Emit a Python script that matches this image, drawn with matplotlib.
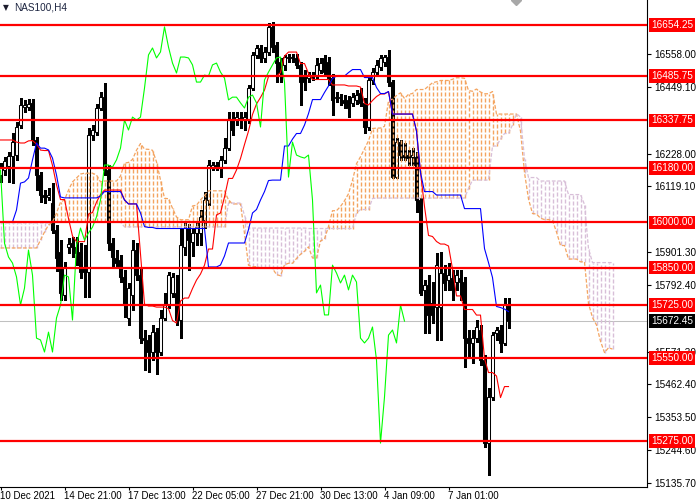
import numpy as np
import matplotlib.pyplot as plt
from matplotlib.collections import LineCollection
from matplotlib.transforms import blended_transform_factory

# H4 candles (price units)
opens = [16157, 16174, 16187, 16220, 16223, 16323, 16382, 16382, 16396, 16273,
         16157, 16091, 16084, 16064, 15975, 15902, 15759, 15918, 15931, 15918,
         15902, 15849, 15835, 16289, 16299, 16379, 16415, 16173, 15931, 15882,
         15875, 15819, 15683, 15759, 15908, 15825, 15616, 15610, 15570, 15636,
         15570, 15683, 15726, 15766, 15766, 15676, 15918, 15981, 15935, 15965,
         15965, 16008, 16074, 16183, 16190, 16183, 16207, 16246, 16339, 16339,
         16346, 16339, 16339, 16445, 16555, 16578, 16545, 16565, 16648, 16588,
         16531, 16522, 16545, 16548, 16545, 16522, 16488, 16478, 16482, 16488,
         16505, 16545, 16531, 16478, 16412, 16412, 16406, 16406, 16396, 16406,
         16429, 16396, 16316, 16472, 16498, 16515, 16531, 16548, 16465, 16150,
         16266, 16223, 16223, 16217, 16217, 16074, 15776, 15792, 15732, 15719,
         15719, 15832, 15809, 15815, 15802, 15815, 15802, 15616, 15600, 15616,
         15643, 15543, 15268, 15421, 15633, 15643, 15600, 15726]
highs = [16197, 16217, 16233, 16296, 16333, 16412, 16406, 16409, 16409, 16283,
         16167, 16107, 16114, 16130, 15990, 15941, 15868, 15948, 15951, 15951,
         15931, 15925, 16313, 16323, 16392, 16432, 16462, 16190, 15948, 15908,
         15892, 15842, 15799, 15941, 15931, 15852, 15643, 15626, 15660, 15650,
         15709, 15766, 15835, 15832, 15825, 15981, 16001, 15994, 15981, 16001,
         16041, 16100, 16207, 16200, 16200, 16220, 16280, 16366, 16366, 16366,
         16366, 16366, 16455, 16565, 16588, 16588, 16581, 16661, 16664, 16598,
         16545, 16555, 16558, 16558, 16558, 16531, 16505, 16498, 16498, 16545,
         16545, 16555, 16548, 16492, 16432, 16425, 16422, 16419, 16429, 16439,
         16445, 16412, 16482, 16512, 16538, 16555, 16555, 16571, 16472, 16280,
         16273, 16263, 16240, 16246, 16233, 16081, 15809, 15825, 15802, 15898,
         15902, 15858, 15865, 15842, 15842, 15842, 15819, 15643, 15643, 15676,
         15660, 15560, 15451, 15636, 15653, 15660, 15749, 15749]
lows = [16134, 16157, 16134, 16130, 16207, 16313, 16366, 16372, 16256, 16107,
        16067, 16064, 16074, 15965, 15840, 15742, 15742, 15898, 15885, 15858,
        15815, 15752, 15752, 16273, 16289, 16372, 16157, 15908, 15852, 15848,
        15802, 15686, 15660, 15709, 15809, 15600, 15510, 15504, 15543, 15497,
        15560, 15676, 15716, 15752, 15660, 15616, 15892, 15842, 15888, 15925,
        15925, 15981, 16057, 16173, 16173, 16150, 16197, 16240, 16289, 16323,
        16313, 16306, 16329, 16439, 16545, 16531, 16531, 16555, 16565, 16465,
        16465, 16505, 16531, 16531, 16512, 16389, 16439, 16465, 16472, 16478,
        16495, 16488, 16455, 16356, 16399, 16389, 16379, 16349, 16386, 16392,
        16386, 16296, 16306, 16459, 16488, 16505, 16518, 16452, 16147, 16147,
        16207, 16207, 16190, 16190, 16034, 15759, 15633, 15633, 15666, 15610,
        15610, 15776, 15776, 15742, 15776, 15742, 15520, 15553, 15534, 15603,
        15527, 15255, 15162, 15411, 15610, 15570, 15593, 15650]
closes = [16183, 16203, 16220, 16266, 16316, 16389, 16389, 16392, 16273, 16157,
          16091, 16084, 16091, 15975, 15882, 15766, 15849, 15928, 15918, 15898,
          15835, 15835, 16289, 16306, 16379, 16415, 16173, 15931, 15885, 15865,
          15819, 15726, 15782, 15908, 15825, 15616, 15610, 15570, 15636, 15570,
          15683, 15726, 15825, 15819, 15676, 15925, 15981, 15941, 15965, 15984,
          16018, 16074, 16190, 16190, 16183, 16207, 16246, 16339, 16306, 16349,
          16339, 16349, 16445, 16555, 16578, 16545, 16565, 16648, 16581, 16528,
          16495, 16548, 16548, 16545, 16522, 16465, 16465, 16488, 16485, 16522,
          16528, 16498, 16478, 16406, 16415, 16415, 16396, 16379, 16415, 16422,
          16396, 16316, 16472, 16498, 16522, 16545, 16548, 16465, 16150, 16266,
          16223, 16217, 16213, 16223, 16074, 15766, 15792, 15693, 15693, 15858,
          15832, 15799, 15825, 15776, 15825, 15802, 15616, 15600, 15616, 15653,
          15543, 15268, 15421, 15626, 15643, 15600, 15726, 15672.45]

# ichimoku values at the left edge, where the history is off screen
tenkan_head = [16273, 16273, 16273, 16273, 16266, 16263, 16263, 16270]
kijun_head = [16001, 16001, 16001, 16001, 16041, 16130, 16134, 16147, 16207,
              16263, 16246, 16246, 16240, 16213, 16157, 16084, 16081, 16081,
              16081, 16081, 16081, 16081, 16081, 16081, 16081]
span_a_head = [15915, 15915, 15915, 15915, 15915, 15915, 15915, 15915, 15915,
               15915, 15941, 15968, 15991, 16001, 16031, 16067, 16074, 16107,
               16134, 16147, 16160, 16163, 16163, 16163, 16157, 16134]
span_b_head = ([15998] * 13 + [16001] * 18 + [15985] * 26 + [16064] * 4
               + [16024] + [15981] * 15)

levels = [16654.25, 16485.75, 16337.75, 16180.00, 16000.00,
          15850.00, 15725.00, 15550.00, 15275.00]
price_ticks = [16558.00, 16449.10, 16228.00, 16119.10, 15901.30, 15792.40,
               15571.30, 15462.40, 15353.50, 15244.60, 15135.70]
last_price = 15672.45
date_pos = [0, 16, 32, 48, 64, 80, 96, 112]
date_labels = ["10 Dec 2021", "14 Dec 21:00", "17 Dec 13:00", "22 Dec 05:00",
               "27 Dec 21:00", "30 Dec 13:00", "4 Jan 09:00", "7 Jan 01:00"]

FONT = ["Liberation Sans", "DejaVu Sans"]
plt.rcParams["font.family"] = FONT

o = np.array(opens, float)
h = np.array(highs, float)
l = np.array(lows, float)
c = np.array(closes, float)
n = len(c)
shift = 26


def midpoint(i, period):
    return (h[i - period + 1:i + 1].max() + l[i - period + 1:i + 1].min()) / 2


def dotted_columns(xs, lo, hi, on, off):
    """Split each vertical cloud column into short dashes (MT4 STYLE_DOT)."""
    segs = []
    for xv, a, b in zip(xs, lo, hi):
        y = a
        while y < b:
            segs.append([(xv, y), (xv, min(y + on, b))])
            y += on + off
    return segs


tenkan = np.array(tenkan_head + [midpoint(i, 9) for i in range(len(tenkan_head), n)])
kijun = np.array(kijun_head + [midpoint(i, 26) for i in range(len(kijun_head), n)])
span_a = np.array(span_a_head + list((tenkan + kijun) / 2))
span_b = np.array(span_b_head + [midpoint(i, 52) for i in range(51, n)])
cx = np.arange(len(span_a))
x = np.arange(n)

fig = plt.figure(figsize=(7, 5), dpi=100)
ax = fig.add_axes([0, 13 / 500, 647 / 700, 487 / 500])
ax.set_xlim(-0.125, 161.625)
ax.set_ylim(15122.5, 16737.1)

# cloud hatching: one dotted column per bar
px = (16737.1 - 15122.5) / 487  # price per pixel
orange, thistle = "#F4A460", "#D8BFD8"
up = span_a >= span_b
ax.add_collection(LineCollection(
    dotted_columns(cx[up], span_b[up], span_a[up], 4 * px, 2 * px),
    colors=orange, linewidths=1.0, zorder=3))
ax.add_collection(LineCollection(
    dotted_columns(cx[~up], span_a[~up], span_b[~up], 4 * px, 2 * px),
    colors=thistle, linewidths=1.0, zorder=3))
ax.plot(cx, span_a, color=orange, lw=0.9, ls=(0, (3, 1.5)), zorder=3)
ax.plot(cx, span_b, color=thistle, lw=0.9, ls=(0, (3, 1.5)), zorder=3)

# candles
bull = c >= o
ax.vlines(x, l, h, color="black", linewidth=0.8, antialiased=False, zorder=2)
ax.bar(x, np.maximum(np.abs(c - o), 1.5), bottom=np.minimum(o, c), width=0.55,
       color=np.where(bull, "white", "black"), edgecolor="black",
       linewidth=0.75, zorder=2)

ax.plot(x, tenkan, color="#FF0000", lw=0.8, zorder=4)
ax.plot(x, kijun, color="#0000FF", lw=0.8, zorder=4)
ax.plot(x[:n - shift], c[shift:], color="#00FF00", lw=0.8, zorder=4)

ax.axhline(last_price, color="#C0C0C0", lw=0.75, zorder=1)
for lv in levels:
    ax.axhline(lv, color="#FF0000", lw=1.6, zorder=5)

# axes styling
for side in ("top", "left"):
    ax.spines[side].set_visible(False)
ax.spines["right"].set_linewidth(0.8)
ax.spines["bottom"].set_linewidth(0.8)
ax.yaxis.tick_right()
ax.set_yticks(price_ticks)
ax.set_yticklabels([f"{p:.2f}" for p in price_ticks])
ax.tick_params(axis="y", labelsize=7.2, length=3, width=0.8, pad=2)
ax.set_xticks(date_pos)
ax.set_xticklabels(date_labels, ha="left")
ax.tick_params(axis="x", labelsize=7, length=2.5, width=0.8, pad=0.3)

tr = blended_transform_factory(ax.transAxes, ax.transData)
for lv in levels:
    ax.text(1.0065, lv, f"{lv:.2f}", transform=tr, ha="left", va="center",
            fontsize=7.2, color="white", clip_on=False, zorder=6,
            bbox=dict(boxstyle="square,pad=0.18", fc="#FF0000", ec="none"))
ax.text(1.0065, last_price, f"{last_price:.2f}", transform=tr, ha="left",
        va="center", fontsize=7.2, color="white", clip_on=False, zorder=6,
        bbox=dict(boxstyle="square,pad=0.18", fc="black", ec="none"))

ax.text(0.004, 0.984, "\u25bc", transform=ax.transAxes, fontsize=5.5,
        family=["DejaVu Sans"], color="#1C1C2C", va="center", ha="left")
ax.text(0.022, 0.984, "NAS100,H4", transform=ax.transAxes, fontsize=7.2,
        color="#1C2440", va="center", ha="left")
ax.plot([128.9], [16737.1], marker="D", color="#A8A8A8", markersize=5,
        clip_on=False, zorder=6)

fig.savefig("out.png", dpi=100, facecolor="white")
